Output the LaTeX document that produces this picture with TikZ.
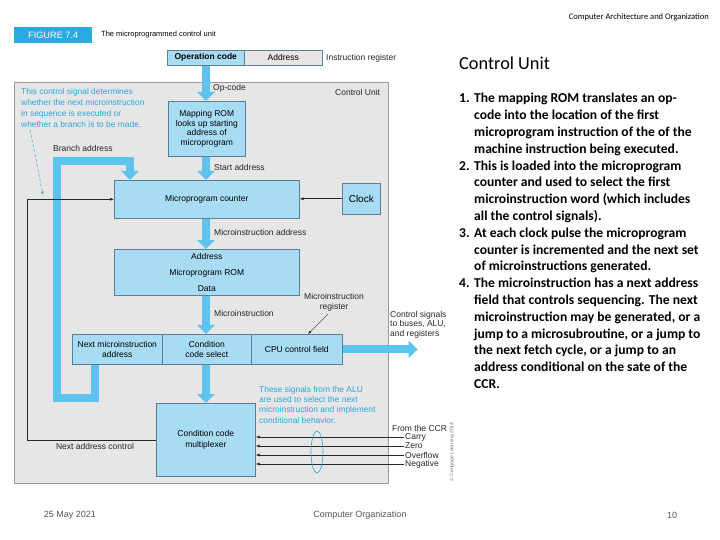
\documentclass[tikz,border=0pt]{standalone}
\usepackage{fontspec}
\setmainfont{Liberation Sans}
\newfontfamily\calib{Carlito}
\usetikzlibrary{arrows.meta}
\definecolor{panelgray}{HTML}{E6E6E6}
\definecolor{panelline}{HTML}{9A9A9A}
\definecolor{boxblue}{HTML}{A8DCF4}
\definecolor{boxline}{HTML}{5C7F94}
\definecolor{fatblue}{HTML}{5EC3EE}
\definecolor{notecyan}{HTML}{2AA7DF}
\definecolor{figblue}{HTML}{29ABE2}
\definecolor{footgray}{HTML}{555555}
\newcommand\diagfont{\fontsize{8.5}{9.5}\selectfont}
\begin{document}
\begin{tikzpicture}[x=1pt,y=-1pt,
  box/.style={draw=boxline, fill=boxblue, line width=0.6pt, inner sep=1pt, align=center, anchor=north west, font=\diagfont},
  panel/.style={draw=panelline, fill=panelgray, line width=0.6pt, anchor=north west, inner sep=0pt},
  fat/.style={draw=fatblue, line width=8pt, line join=miter, -{Triangle[width=17pt,length=9pt]}},
  thin/.style={draw=black!85, line width=0.6pt, -{Latex[length=4pt,width=3pt]}},
  lbl/.style={font=\diagfont, inner sep=1pt, text=black!85},
  note/.style={font=\diagfont, inner sep=0pt, text=notecyan, align=left},
  foot/.style={font=\fontsize{9}{10}\selectfont, text=footgray, inner sep=0pt}]
\useasboundingbox (0,0) rectangle (720,540);
\fill[white] (0,0) rectangle (720,540);

% header
\node[anchor=east, font=\calib\fontsize{8.5}{9}\selectfont, inner sep=0pt] (hdr) at (709,17) {Computer Architecture and Organization};
\node[fill=figblue, text=white, minimum width=78pt, minimum height=16pt, anchor=north west, inner sep=0pt, font=\fontsize{9.2}{10}\selectfont] (fig) at (14,27) {FIGURE 7.4};
\node[anchor=west, inner sep=0pt, font=\fontsize{7.5}{9}\selectfont] (title) at (101,35) {The microprogrammed control unit};

% panel
\node[panel, minimum width=374pt, minimum height=401pt] (cu) at (14,82) {};

% instruction register
\node[box, minimum width=77pt, minimum height=15pt, font=\diagfont\bfseries] (opc) at (167,50) {Operation code};
\node[box, fill=panelgray, minimum width=78pt, minimum height=15pt] (addr) at (244,50) {Address};
\node[lbl, anchor=west] (ireg) at (325,58) {Instruction register};

% boxes
\node[box, minimum width=77pt, minimum height=55pt] (mrom) at (168,101) {Mapping ROM\\looks up starting\\address of\\microprogram};
\node[box, minimum width=185pt, minimum height=38pt] (mpc) at (114,180) {Microprogram counter};
\node[box, minimum width=38pt, minimum height=31pt, font=\fontsize{10}{11}\selectfont] (clock) at (342,183) {Clock};
\node[box, minimum width=185pt, minimum height=46pt] (rom) at (114,249) {Address\\[6.5pt]Microprogram ROM\\[6.5pt]Data};
\node[box, minimum width=90pt, minimum height=30pt] (nma) at (72,334) {Next microinstruction\\address};
\node[box, minimum width=89pt, minimum height=30pt] (ccs) at (162,334) {Condition\\code select};
\node[box, minimum width=91pt, minimum height=30pt] (cpu) at (251,334) {CPU control field};
\node[box, minimum width=99pt, minimum height=73pt, font=\fontsize{8.5}{11.5}\selectfont] (mux) at (156,403) {Condition code\\multiplexer};

% labels inside panel
\node[lbl, anchor=west] (lop) at (212,88) {Op-code};
\node[lbl, anchor=west] (lcu) at (334,92) {Control Unit};
\node[lbl, anchor=west] (lsa) at (213,167) {Start address};
\node[lbl, anchor=west] (lmia) at (213,232) {Microinstruction address};
\node[lbl, anchor=west] (lmi) at (213,313) {Microinstruction};
\node[lbl, align=center, font=\fontsize{8.5}{10}\selectfont] (lmir) at (334,302) {Microinstruction\\register};
\node[lbl, anchor=west] (lbr) at (52,148) {Branch address};
\node[lbl] (lnac) at (95,446) {Next address control};
\node[lbl, anchor=north west, align=left, font=\fontsize{8.5}{9.6}\selectfont] (lcs) at (389,310) {Control signals\\to buses, ALU,\\and registers};
\node[note, anchor=north west, font=\fontsize{8.4}{11}\selectfont] (n1) at (21,88) {This control signal determines\\whether the next microinstruction\\in sequence is executed or\\whether a branch is to be made.};
\node[note, anchor=north west, font=\fontsize{8.4}{10.3}\selectfont] (n2) at (259,386) {These signals from the ALU\\are used to select the next\\microinstruction and implement\\conditional behavior.};
\node[lbl, anchor=west] (lccr) at (391,428) {From the CCR};
\node[lbl, anchor=west] (carry) at (404,437) {Carry};
\node[lbl, anchor=west] (zero) at (404,446) {Zero};
\node[lbl, anchor=west] (ovf) at (404,455) {Overflow};
\node[lbl, anchor=west] (neg) at (404,464) {Negative};
\node[rotate=90, font=\fontsize{5}{6}\selectfont, text=black!55, inner sep=0pt] (copy) at (452,452) {\textcopyright\ Cengage Learning 2014};

% fat arrows
\draw[fat] (opc.south -| 206,0) -- (206,0 |- mrom.north);
\draw[fat] (mrom.south -| 206,0) -- (206,0 |- mpc.north);
\draw[fat] (mpc.south -| 206,0) -- (206,0 |- rom.north);
\draw[fat] (rom.south -| 206,0) -- (206,0 |- ccs.north);
\draw[fat] (ccs.south -| 206,0) -- (206,0 |- mux.north);
\draw[fat] (cpu.east) -- ++(75,0);
\coordinate (bx) at (95,0);
\draw[fat] (bx |- nma.south) -- (95,398) -- (57,398) -- (57,161) -- (130,161) -- (130,0 |- mpc.north);

% thin connectors
\draw[thin] (clock.west) -- (clock.west -| mpc.east);
\coordinate (nacx) at (27,0);
\draw[thin] (mux.west) -| (nacx |- mpc.west) -- (mpc.west);
\foreach \s in {carry,zero,ovf,neg}{\draw[thin] (\s.west) -- (\s.west -| mux.east);}
\draw[draw=black!80, line width=0.4pt, -{Latex[length=3.5pt,width=2.5pt]}] (lmir.south) ++(-6,2) -- (308,0 |- cpu.north);
\draw[draw=notecyan, line width=0.5pt, densely dashed, -{Latex[length=3.5pt,width=2.5pt]}] (n1.south west) ++(9,2) -- (43,195);
\draw[draw=notecyan, line width=0.6pt] (317,452) ellipse [x radius=6, y radius=21];

% right text
\node[anchor=west, inner sep=0pt, font=\calib\fontsize{18.3}{20}\selectfont] (ctitle) at (459,63) {Control Unit};
\node[anchor=north west, inner sep=0pt, font=\calib\bfseries\fontsize{13.6}{16.8}\selectfont] (list) at (459,91) {\begin{tabular}{@{}p{15pt}@{}l@{}}
1. & The mapping ROM translates an op-\\
 & code into the location of the first\\
 & microprogram instruction of the of the\\
 & machine instruction being executed.\\
2. & This is loaded into the microprogram\\
 & counter and used to select the first\\
 & microinstruction word (which includes\\
 & all the control signals).\\
3. & At each clock pulse the microprogram\\
 & counter is incremented and the next set\\
 & of microinstructions generated.\\
4. & The microinstruction has a next address\\
 & field that controls sequencing. The next\\
 & microinstruction may be generated, or a\\
 & jump to a microsubroutine, or a jump to\\
 & the next fetch cycle, or a jump to an\\
 & address conditional on the sate of the\\
 & CCR.
\end{tabular}};

% footer
\node[foot] (date) at (70,515) {25 May 2021};
\node[foot] (course) at (360,515) {Computer Organization};
\node[foot] (page) at (672,515) {10};
\end{tikzpicture}
\end{document}
